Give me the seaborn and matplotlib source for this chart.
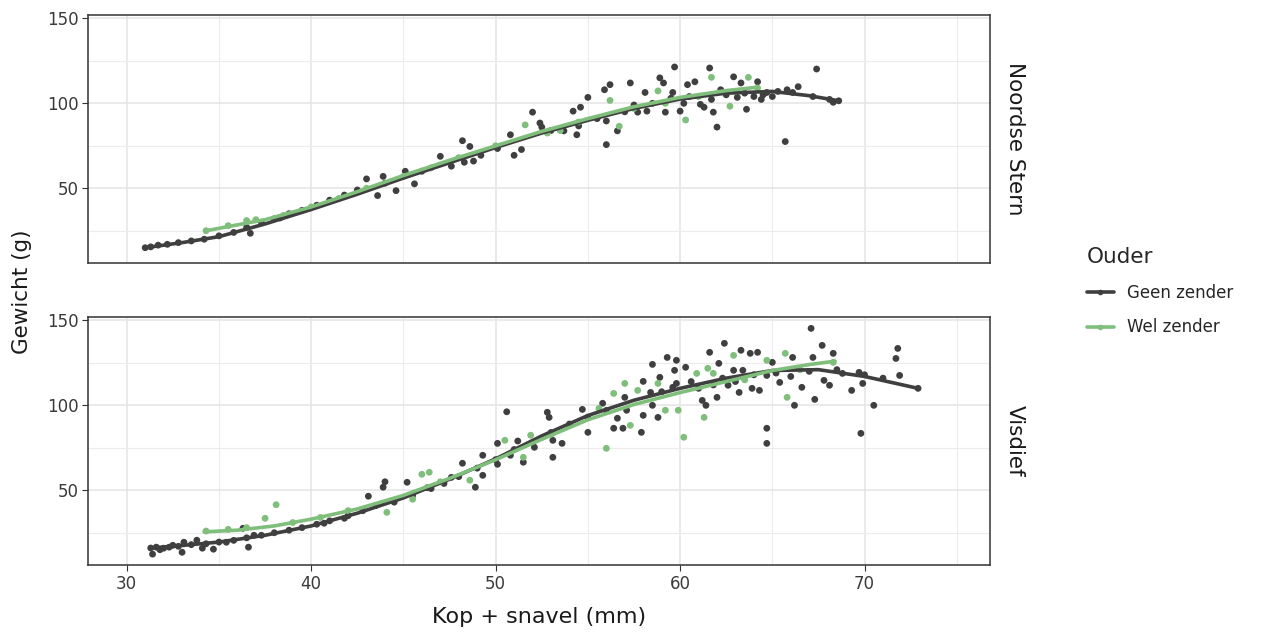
import seaborn as sns
import matplotlib.pyplot as plt
import pandas as pd
from matplotlib.lines import Line2D
from matplotlib.ticker import MultipleLocator

sns.set_style("white")
plt.rcParams['font.family'] = ['DejaVu Sans']

# --- Data ---
soorten = ["Noordse Stern", "Visdief"]
ouders = ["Geen zender", "Wel zender"]
kleuren = {"Geen zender": "#3f3f3f", "Wel zender": "#7fbf7b"}

# Noordse Stern - Geen zender
ns_geen_x = [31.0, 31.3, 31.7, 32.2, 32.8, 33.5, 34.2, 35.0, 35.8, 36.5, 36.7, 37.3, 38.0, 38.3, 38.8,
             39.5, 40.3, 41.0, 41.8, 42.5, 43.0, 43.6, 43.9, 44.0, 44.6, 45.1, 45.6, 46.0, 47.0, 47.6,
             48.2, 48.3, 48.6, 48.8, 49.2, 50.1, 50.8, 51.0, 51.4, 52.0, 52.4, 52.5, 53.0, 53.7, 54.2,
             54.4, 54.5, 54.6, 55.0, 55.5, 55.9, 56.0, 56.0, 56.2, 56.6, 57.0, 57.3, 57.5, 57.7, 58.1,
             58.2, 58.5, 58.9, 59.1, 59.2, 59.5, 59.6, 59.7, 60.0, 60.2, 60.4, 60.5, 60.8, 61.1, 61.3,
             61.6, 61.7, 61.8, 62.0, 62.2, 62.5, 62.9, 63.1, 63.3, 63.5, 63.6, 64.0, 64.2, 64.4, 64.5,
             64.7, 65.0, 65.3, 65.7, 65.8, 66.1, 66.4, 67.2, 67.4, 68.1, 68.3, 68.6]
ns_geen_y = [15.0, 15.5, 16.5, 17.0, 18.0, 19.0, 20.0, 22.0, 24.0, 27.0, 23.5, 30.0, 32.0, 32.5, 35.0,
             37.0, 40.0, 43.0, 46.0, 49.0, 55.5, 45.7, 57.0, 53.0, 48.6, 60.0, 52.6, 60.0, 68.8, 63.0,
             78.0, 65.3, 74.6, 66.0, 69.4, 73.4, 81.5, 69.4, 72.8, 94.8, 88.4, 86.0, 84.0, 83.8, 95.4,
             81.5, 86.7, 97.7, 103.5, 91.0, 108.0, 75.7, 89.6, 111.0, 83.8, 95.0, 112.0, 99.0, 94.8, 106.4,
             95.4, 100.0, 115.0, 112.0, 94.8, 103.0, 106.4, 121.4, 95.4, 100.0, 111.0, 104.0, 112.7, 99.4, 97.7,
             120.8, 102.3, 94.8, 86.0, 108.0, 105.0, 115.6, 103.5, 112.0, 106.0, 96.5, 104.0, 112.7, 102.3, 105.0,
             106.4, 104.0, 107.0, 77.5, 108.0, 106.4, 109.8, 104.0, 120.2, 102.3, 100.6, 101.5]

# Noordse Stern - Wel zender
ns_wel_x = [34.3, 35.5, 36.5, 37.0, 38.5, 40.0, 41.5, 43.0, 45.0, 46.5, 48.0, 50.0, 51.6, 52.8, 53.5,
            54.5, 56.2, 56.7, 57.5, 58.8, 59.2, 60.3, 61.0, 61.7, 62.7, 63.0, 63.7, 64.2]
ns_wel_y = [25.0, 28.0, 31.0, 31.5, 34.0, 39.0, 44.0, 50.0, 57.0, 62.0, 68.0, 75.0, 87.3, 82.5, 84.0,
            89.0, 101.7, 86.5, 97.0, 107.3, 100.0, 90.2, 104.0, 115.3, 98.3, 107.0, 115.3, 109.0]

# Visdief - Geen zender
vd_geen_x = [31.3, 31.4, 31.6, 31.8, 32.0, 32.3, 32.5, 32.8, 33.0, 33.1, 33.5, 33.8, 34.1, 34.3, 34.7,
             35.0, 35.4, 35.8, 36.3, 36.5, 36.6, 36.9, 37.3, 38.0, 38.8, 39.5, 40.3, 40.7, 41.0, 41.8,
             42.0, 42.8, 43.1, 43.5, 43.9, 44.0, 44.5, 45.2, 45.5, 46.3, 46.5, 47.2, 47.6, 48.0, 48.2,
             48.9, 49.0, 49.3, 49.3, 50.0, 50.1, 50.1, 50.6, 50.8, 51.0, 51.2, 51.5, 52.0, 52.1, 52.8,
             52.9, 53.0, 53.1, 53.1, 53.6, 54.0, 54.7, 55.0, 55.0, 55.8, 56.0, 56.4, 56.6, 56.9, 57.0,
             57.1, 57.9, 58.0, 58.0, 58.4, 58.5, 58.5, 58.8, 58.9, 59.0, 59.3, 59.6, 59.7, 59.8, 59.8,
             60.3, 60.6, 61.0, 61.2, 61.4, 61.6, 61.8, 62.0, 62.1, 62.3, 62.4, 62.6, 62.9, 63.0, 63.2,
             63.3, 63.4, 63.8, 63.9, 64.0, 64.2, 64.3, 64.7, 64.7, 64.7, 65.0, 65.2, 65.4, 66.0, 66.1,
             66.2, 66.4, 66.6, 67.0, 67.1, 67.2, 67.3, 67.7, 67.8, 68.1, 68.3, 68.5, 68.8, 69.3, 69.7,
             69.8, 69.9, 70.0, 70.5, 71.0, 71.7, 71.8, 71.9, 72.9]
vd_geen_y = [16.0, 12.4, 16.5, 15.0, 15.9, 16.5, 17.6, 17.0, 13.5, 19.4, 18.0, 20.6, 15.9, 18.5, 15.3,
             19.5, 19.4, 20.5, 27.6, 22.0, 16.5, 23.5, 23.5, 25.0, 26.5, 28.0, 30.0, 30.6, 32.0, 33.5,
             35.0, 38.0, 46.5, 41.0, 51.8, 55.0, 43.0, 54.7, 47.0, 51.5, 51.0, 54.0, 57.6, 58.0, 65.9,
             51.8, 63.0, 58.8, 70.6, 68.0, 77.6, 65.3, 96.2, 70.6, 74.0, 79.0, 66.5, 78.0, 75.3, 95.9,
             92.9, 84.0, 69.4, 79.4, 77.6, 89.0, 97.6, 84.1, 93.0, 101.2, 97.0, 86.5, 92.4, 86.5, 104.7,
             97.1, 84.1, 94.1, 114.1, 107.6, 124.1, 100.0, 92.9, 116.5, 108.0, 128.2, 110.6, 120.6, 126.5, 112.9,
             122.4, 114.0, 110.0, 102.9, 100.0, 131.2, 112.0, 104.7, 124.7, 116.0, 136.5, 111.8, 120.6, 114.0, 107.6,
             132.4, 120.6, 130.6, 110.0, 118.0, 131.2, 108.8, 117.6, 86.5, 77.6, 125.3, 119.0, 113.5, 117.0, 128.2,
             100.0, 121.8, 110.6, 120.0, 145.3, 128.2, 103.5, 135.3, 114.7, 111.8, 130.6, 121.0, 118.8, 108.8, 119.4,
             83.5, 112.9, 118.0, 100.0, 116.0, 127.6, 133.5, 117.6, 110.0]

# Visdief - Wel zender
vd_wel_x = [34.3, 35.5, 36.5, 37.5, 38.1, 39.0, 40.5, 42.0, 44.1, 45.5, 46.0, 46.4, 47.0, 48.6, 50.5,
            51.5, 51.9, 53.0, 55.6, 56.0, 56.4, 57.0, 57.3, 57.7, 58.8, 59.2, 59.9, 60.2, 60.9, 61.3,
            61.5, 61.8, 62.9, 63.5, 64.7, 65.7, 65.8, 66.5, 68.3]
vd_wel_y = [26.0, 27.0, 28.0, 33.5, 41.5, 31.0, 34.0, 38.0, 37.0, 44.7, 59.4, 60.6, 55.0, 55.9, 79.4,
            69.4, 82.4, 83.0, 98.2, 74.7, 107.0, 112.9, 88.2, 108.8, 112.9, 97.1, 97.1, 81.2, 118.8, 92.9,
            121.8, 118.8, 129.4, 115.0, 126.5, 130.6, 104.7, 121.0, 125.3]

# Smoothed curves (loess)
ns_geen_fit_x = [31.0, 33.0, 35.0, 37.5, 40.0, 42.5, 45.0, 47.5, 50.0, 52.5, 55.0, 57.5, 60.0, 62.5, 65.0, 67.0, 68.6]
ns_geen_fit_y = [15.0, 18.0, 21.5, 29.0, 37.5, 46.5, 56.0, 65.0, 74.0, 82.5, 90.0, 97.0, 102.5, 106.0, 107.0, 104.5, 101.5]
ns_wel_fit_x = [34.3, 37.5, 40.0, 42.5, 45.0, 47.5, 50.0, 52.5, 55.0, 57.5, 60.0, 62.5, 64.2]
ns_wel_fit_y = [25.0, 31.5, 39.0, 48.0, 57.5, 66.5, 75.0, 83.5, 91.0, 98.0, 103.5, 107.5, 109.5]
vd_geen_fit_x = [31.3, 33.0, 35.0, 37.5, 40.0, 42.5, 45.0, 47.5, 50.0, 52.5, 55.0, 57.5, 60.0, 62.5, 65.0, 67.5, 70.0, 72.9]
vd_geen_fit_y = [16.0, 17.5, 19.5, 23.5, 29.0, 36.5, 45.5, 56.5, 68.5, 82.0, 94.0, 103.0, 110.0, 116.0, 120.5, 121.0, 117.0, 110.0]
vd_wel_fit_x = [34.2, 36.0, 38.0, 40.0, 42.5, 45.0, 47.5, 50.0, 52.5, 55.0, 57.5, 60.0, 62.5, 65.0, 67.0, 68.4]
vd_wel_fit_y = [25.5, 26.5, 29.0, 33.0, 39.0, 47.0, 57.0, 68.0, 80.0, 91.5, 100.5, 107.5, 114.0, 120.5, 124.0, 126.0]

punten = {
    ("Noordse Stern", "Geen zender"): (ns_geen_x, ns_geen_y),
    ("Noordse Stern", "Wel zender"): (ns_wel_x, ns_wel_y),
    ("Visdief", "Geen zender"): (vd_geen_x, vd_geen_y),
    ("Visdief", "Wel zender"): (vd_wel_x, vd_wel_y),
}
curves = {
    ("Noordse Stern", "Geen zender"): (ns_geen_fit_x, ns_geen_fit_y),
    ("Noordse Stern", "Wel zender"): (ns_wel_fit_x, ns_wel_fit_y),
    ("Visdief", "Geen zender"): (vd_geen_fit_x, vd_geen_fit_y),
    ("Visdief", "Wel zender"): (vd_wel_fit_x, vd_wel_fit_y),
}

rows = []
for (soort, ouder), (xs, ys) in punten.items():
    for xv, yv in zip(xs, ys):
        rows.append({"soort": soort, "ouder": ouder, "kop": xv, "gewicht": yv})
df = pd.DataFrame(rows)

fit_rows = []
for (soort, ouder), (xs, ys) in curves.items():
    for xv, yv in zip(xs, ys):
        fit_rows.append({"soort": soort, "ouder": ouder, "kop": xv, "gewicht": yv})
fit = pd.DataFrame(fit_rows)

# --- Figure ---
fig = plt.figure(figsize=(12.69, 6.34), dpi=100)
W, H = 1269, 634
panels = [(15, 263), (317, 565)]
axes = []
for (top, bot) in panels:
    ax = fig.add_axes([88 / W, 1 - bot / H, (990 - 88) / W, (bot - top) / H])
    axes.append(ax)

for ax, soort in zip(axes, soorten):
    sub = df[df["soort"] == soort]
    sns.scatterplot(data=sub, x="kop", y="gewicht", hue="ouder", hue_order=ouders,
                    palette=kleuren, s=24, linewidth=0, legend=False, ax=ax, zorder=3)
    for ouder in ouders:
        f = fit[(fit["soort"] == soort) & (fit["ouder"] == ouder)]
        sns.lineplot(data=f, x="kop", y="gewicht", color=kleuren[ouder], lw=2.6,
                     estimator=None, sort=True, ax=ax, zorder=4)

    ax.set_xlim(27.9, 76.8)
    ax.set_ylim(6, 152)
    ax.xaxis.set_major_locator(MultipleLocator(10))
    ax.xaxis.set_minor_locator(MultipleLocator(5))
    ax.yaxis.set_major_locator(MultipleLocator(50))
    ax.yaxis.set_minor_locator(MultipleLocator(25))
    ax.grid(True, which="major", color="#e6e6e6", lw=1.2)
    ax.grid(True, which="minor", color="#ececec", lw=0.8)
    ax.set_axisbelow(True)
    for sp in ax.spines.values():
        sp.set_color("#333333")
        sp.set_linewidth(1.1)
    ax.tick_params(axis="both", which="major", length=4, width=0.8, color="#333333",
                   labelsize=12, labelcolor="#3a3a3a", bottom=True, left=True, pad=3)
    ax.tick_params(axis="both", which="minor", length=0)
    ax.set_xlabel("")
    ax.set_ylabel("")
    ax.text(1.028, 0.5, soort, transform=ax.transAxes, rotation=-90,
            ha="center", va="center", fontsize=15.5, color="#1a1a1a")

axes[0].tick_params(axis="x", labelbottom=False, length=0)

fig.text((88 + 990) / 2 / W, 1 - 617 / H, "Kop + snavel (mm)", ha="center", va="center",
         fontsize=16, color="#1a1a1a")
fig.text(22 / W, 1 - 292 / H, "Gewicht (g)", ha="center", va="center", rotation=90,
         fontsize=15.5, color="#1a1a1a")

handles = [Line2D([], [], color=kleuren[o], lw=2.6, marker="o", ms=4, markeredgewidth=0) for o in ouders]
leg = fig.legend(handles, ouders, title="Ouder", loc="upper left",
                 bbox_to_anchor=(1072 / W, 1 - 232 / H), frameon=False,
                 fontsize=12, title_fontsize=15.5, handlelength=1.6, labelspacing=1.0,
                 handletextpad=0.8)
leg._legend_box.align = "left"

fig.savefig("out.png", dpi=100)
